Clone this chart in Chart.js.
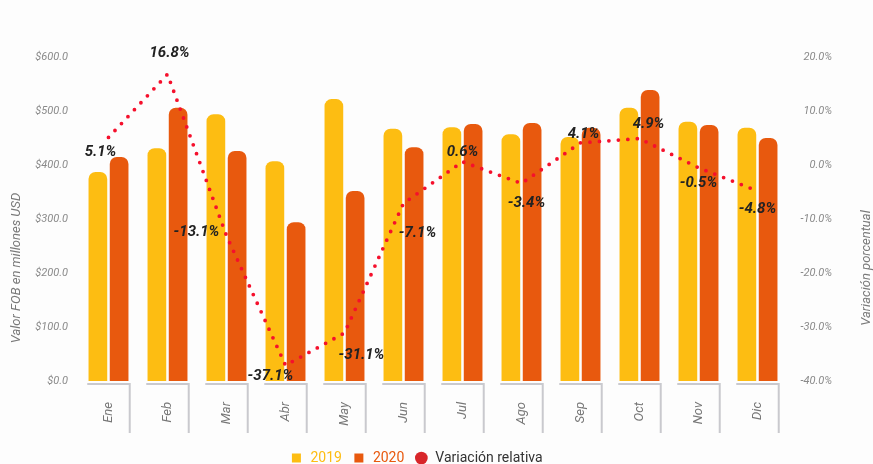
<!DOCTYPE html>
<html>
<head>
<meta charset="utf-8">
<script src="https://cdn.jsdelivr.net/npm/chart.js@4.4.1/dist/chart.umd.min.js"></script>
<style>
  html, body { margin: 0; padding: 0; background: #fdfdfd; }
  #wrap { width: 873px; height: 464px; }
</style>
</head>
<body>
<div id="wrap"><canvas id="chart"></canvas></div>
<script>
const meses = ['Ene', 'Feb', 'Mar', 'Abr', 'May', 'Jun', 'Jul', 'Ago', 'Sep', 'Oct', 'Nov', 'Dic'];
const valores2019 = [387, 431, 494, 407, 522, 467, 470, 457, 452, 506, 480, 469];
const valores2020 = [415, 506, 426, 294, 352, 433, 476, 478, 469, 539, 474, 450];
const variacion = [5.1, 16.8, -13.1, -37.1, -31.1, -7.1, 0.6, -3.4, 4.1, 4.9, -0.5, -4.8];

const col2019 = '#fdbd12';
const col2020 = '#e8590e';
const colVar = '#f5102c';
const grey = '#8a8a8a';

// where each % label sits relative to its point
const labelShift = [[-8, 15], [2, -21], [-30, -3], [-15, 11], [17, 22], [14, 30],
  [0, -10], [5, 20], [3, -9], [9, -14], [0, 16], [0, 18]];

const bgPlugin = {
  id: 'bg',
  beforeDraw(chart) {
    const c = chart.ctx;
    c.save();
    c.fillStyle = '#fdfdfd';
    c.fillRect(0, 0, chart.width, chart.height);
    c.restore();
  }
};

// little L shaped separators below each month group + axis titles
const axisDeco = {
  id: 'axisDeco',
  afterDraw(chart) {
    const c = chart.ctx;
    const x = chart.scales.x;
    const area = chart.chartArea;
    const step = x.getPixelForValue(1) - x.getPixelForValue(0);
    const half = step * 0.72 / 2;
    c.save();
    c.strokeStyle = '#c9c9ce';
    c.lineWidth = 2;
    meses.forEach((m, i) => {
      const cx = x.getPixelForValue(i);
      c.beginPath();
      c.moveTo(cx - half, area.bottom + 3);
      c.lineTo(cx + half, area.bottom + 3);
      c.lineTo(cx + half, area.bottom + 52);
      c.stroke();
    });
    c.fillStyle = '#7a7a7a';
    c.font = 'italic 13px Roboto';
    c.textAlign = 'center';
    c.textBaseline = 'middle';
    c.translate(17, 268);
    c.rotate(-Math.PI / 2);
    c.fillText('Valor FOB en millones USD', 0, 0);
    c.rotate(Math.PI / 2);
    c.translate(-17, -268);
    c.translate(867, 268);
    c.rotate(-Math.PI / 2);
    c.fillText('Variación porcentual', 0, 0);
    c.restore();
  }
};

const pctLabels = {
  id: 'pctLabels',
  afterDatasetsDraw(chart) {
    const meta = chart.getDatasetMeta(2);
    const c = chart.ctx;
    c.save();
    c.font = 'italic bold 15px Roboto';
    c.fillStyle = '#222';
    c.textAlign = 'center';
    c.textBaseline = 'middle';
    meta.data.forEach((pt, i) => {
      const s = labelShift[i];
      c.fillText(variacion[i].toFixed(1) + '%', pt.x + s[0], pt.y + s[1]);
    });
    c.restore();
  }
};

new Chart(document.getElementById('chart'), {
  type: 'bar',
  data: {
    labels: meses,
    datasets: [
      { label: '2019', data: valores2019, backgroundColor: col2019, yAxisID: 'y', order: 2,
        borderRadius: { topLeft: 7, topRight: 7 }, borderSkipped: 'start',
        categoryPercentage: 0.72, barPercentage: 0.88 },
      { label: '2020', data: valores2020, backgroundColor: col2020, yAxisID: 'y', order: 2,
        borderRadius: { topLeft: 7, topRight: 7 }, borderSkipped: 'start',
        categoryPercentage: 0.72, barPercentage: 0.88 },
      { type: 'line', label: 'Variación relativa', data: variacion, yAxisID: 'y1', order: 1,
        borderColor: colVar, backgroundColor: '#d8262a', borderWidth: 3.8,
        borderDash: [0, 9.5], borderCapStyle: 'round', pointRadius: 0, tension: 0, fill: false }
    ]
  },
  options: {
    responsive: true,
    maintainAspectRatio: false,
    animation: false,
    layout: { padding: { top: 57, left: 0, right: 41, bottom: -11 } },
    plugins: {
      tooltip: { enabled: false },
      legend: {
        position: 'bottom',
        labels: {
          padding: 10,
          font: { family: 'Roboto', size: 14 },
          usePointStyle: true,
          boxHeight: 9,
          generateLabels(chart) {
            return chart.data.datasets.map((ds, i) => ({
              text: ds.label,
              fillStyle: i === 2 ? '#d8262a' : ds.backgroundColor,
              strokeStyle: i === 2 ? '#d8262a' : ds.backgroundColor,
              lineWidth: 0,
              pointStyle: i === 2 ? 'circle' : 'rect',
              fontColor: i === 2 ? '#333' : ds.backgroundColor,
              datasetIndex: i
            }));
          }
        }
      }
    },
    scales: {
      x: {
        grid: { display: false, drawTicks: false },
        border: { display: false },
        ticks: {
          minRotation: 90, maxRotation: 90, padding: 21,
          color: '#777', font: { family: 'Roboto', size: 13, style: 'italic' }
        },
        afterFit(axis) { axis.height = 60; }
      },
      y: {
        position: 'left', min: 0, max: 600,
        grid: { display: false, drawTicks: false },
        border: { display: false },
        ticks: {
          stepSize: 100, padding: 11, color: grey,
          font: { family: 'Roboto', size: 11, style: 'italic' },
          callback: v => '$' + v.toFixed(1)
        },
        afterFit(axis) { axis.width = 79; }
      },
      y1: {
        position: 'right', min: -40, max: 20,
        grid: { display: false, drawTicks: false },
        border: { display: false },
        ticks: {
          stepSize: 10, padding: 13, color: grey, crossAlign: 'far',
          font: { family: 'Roboto', size: 11, style: 'italic' },
          callback: v => v.toFixed(1) + '%'
        },
        afterFit(axis) { axis.width = 45; }
      }
    }
  },
  plugins: [bgPlugin, axisDeco, pctLabels]
});
</script>
</body>
</html>
